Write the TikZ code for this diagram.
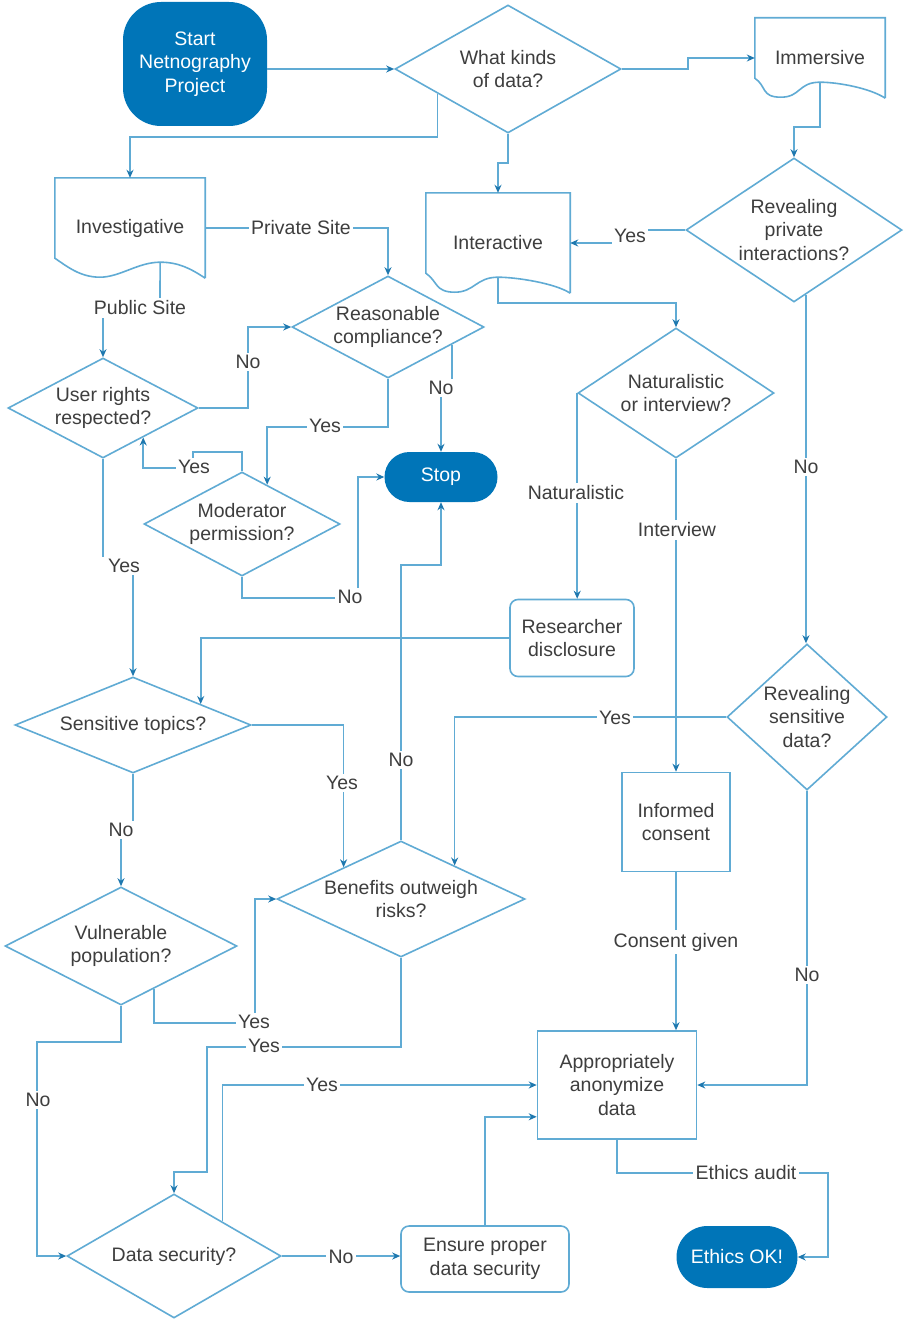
\documentclass[tikz,border=0pt]{standalone}
\usepackage{fontspec}
\setmainfont{Liberation Sans}
\usetikzlibrary{shapes.geometric,arrows.meta,calc}
\definecolor{ln}{RGB}{96,171,212}
\definecolor{fillb}{RGB}{0,117,184}
\definecolor{arrc}{RGB}{30,120,175}
\definecolor{tx}{RGB}{62,62,62}
\newcommand{\docwave}[3]{%
  \coordinate (#1-c) at ($(#1.south west)!#2!(#1.south east)+(0,-16)$);
  \coordinate (#1-t) at ($(#1.south west)!#3!(#1.south east)+(0,-1)$);
  \draw[box] (#1.south east) -- (#1.north east) -- (#1.north west) -- ($(#1.south west)+(0,-20)$)
    .. controls +(12,8) and +(-20,0) .. (#1-t)
    .. controls +(20,0) and +(-22,0) .. (#1-c)
    .. controls +(18,0) and +(-15,-10) .. (#1.south east);
}
\begin{document}
\begin{tikzpicture}[x=1pt,y=-1pt,
  every node/.style={font=\fontsize{19.5}{23.5}\selectfont, text=tx},
  box/.style={draw=ln, line width=1.6pt},
  dia/.style={diamond, draw=ln, line width=1.6pt, inner sep=0pt},
  doc/.style={rectangle, inner sep=0pt, align=center},
  term/.style={rectangle, rounded corners=#1, fill=fillb, text=white, align=center, inner sep=0pt},
  proc/.style={rectangle, draw=ln, line width=1.6pt, align=center, inner sep=0pt},
  conn/.style={draw=ln, line width=1.6pt},
  arr/.style={conn, -{Stealth[length=8pt,width=7pt,color=arrc]}},
  lab/.style={fill=white, inner sep=2.5pt},
]
\fill[white] (0,0) rectangle (905,1319);
\useasboundingbox (0,0) rectangle (905,1319);

% ---------- nodes ----------
\node[term=38pt, minimum width=144pt, minimum height=124pt] (start) at (195,64) {Start\\Netnography\\Project};
\node[dia, minimum width=226pt, minimum height=128pt, label={[align=center]center:{What kinds\\of data?}}] (what) at (508,69) {};
\node[doc, minimum width=130pt, minimum height=80pt] (imm) at (820,58) {Immersive};
\node[doc, minimum width=150pt, minimum height=100pt] (inv) at (130,228) {Investigative};
\node[doc, minimum width=144pt, minimum height=100pt] (inter) at (498,243) {Interactive};
\docwave{imm}{0.5}{0.2}
\docwave{inv}{0.7}{0.3}
\docwave{inter}{0.5}{0.2}
\node[dia, minimum width=216pt, minimum height=144pt, label={[align=center]center:{Revealing\\private\\interactions?}}] (rpi) at (794,230) {};
\node[dia, minimum width=192pt, minimum height=102pt, label={[align=center]center:{Reasonable\\compliance?}}] (rc) at (388,327) {};
\node[dia, minimum width=190pt, minimum height=100pt, label={[align=center]center:{User rights\\respected?}}] (ur) at (103,408) {};
\node[dia, minimum width=196pt, minimum height=130pt, label={[align=center]center:{Naturalistic\\or interview?}}] (nat) at (676,393) {};
\node[term=25pt, minimum width=113pt, minimum height=50pt] (stop) at (441,477) {Stop};
\node[dia, minimum width=196pt, minimum height=104pt, label={[align=center]center:{Moderator\\permission?}}] (mod) at (242,524) {};
\node[proc, rounded corners=8pt, minimum width=124pt, minimum height=77pt] (rd) at (572,638) {Researcher\\disclosure};
\node[dia, minimum width=160pt, minimum height=146pt, label={[align=center]center:{Revealing\\sensitive\\data?}}] (rsd) at (807,717) {};
\node[dia, minimum width=236pt, minimum height=96pt, label={[align=center]center:{Sensitive topics?}}] (sens) at (133,725) {};
\node[proc, minimum width=108pt, minimum height=99pt] (ic) at (676,822) {Informed\\consent};
\node[dia, minimum width=248pt, minimum height=116pt, label={[align=center]center:{Benefits outweigh\\risks?}}] (ben) at (401,899) {};
\node[dia, minimum width=232pt, minimum height=118pt, label={[align=center]center:{Vulnerable\\population?}}] (vul) at (121,946) {};
\node[proc, minimum width=159pt, minimum height=108pt] (app) at (617,1085) {Appropriately\\anonymize\\data};
\node[dia, minimum width=214pt, minimum height=124pt, label={[align=center]center:{Data security?}}] (ds) at (174,1256) {};
\node[proc, rounded corners=8pt, minimum width=168pt, minimum height=66pt] (ens) at (485,1259) {Ensure proper\\data security};
\node[term=31pt, minimum width=121pt, minimum height=62pt] (ok) at (737,1257) {Ethics OK!};

% ---------- helper coordinates on diamond edges ----------
\coordinate (w1) at ($(what.west)!0.38!(what.south)$);
\coordinate (r1) at ($(rpi.south)!0.11!(rpi.east)$);
\coordinate (b1) at ($(ben.north)!0.43!(ben.east)$);
\coordinate (s1) at ($(sens.north)!0.57!(sens.east)$);
\coordinate (c1) at ($(rc.south)!0.66!(rc.east)$);
\coordinate (m1) at ($(mod.north)!0.255!(mod.east)$);
\coordinate (u1) at ($(ur.south)!0.42!(ur.east)$);
\coordinate (b2) at ($(ben.west)!0.54!(ben.north)$);
\coordinate (v1) at ($(vul.south)!0.28!(vul.east)$);
\coordinate (d1) at ($(ds.north)!0.45!(ds.east)$);

% ---------- connectors ----------
\draw[arr] (start.east |- what.west) -- (what.west);
\draw[arr] (what.east) -- (688,69) -- (688,58) -- (imm.west);
\draw[arr] (what.south) -- (508,163) -- (498,163) -- (inter.north);
\draw[arr] (w1) -- (w1 |- 0,137) -- (inv.north |- 0,137) -- (inv.north);
\draw[arr] (imm-c) -- (imm-c |- 0,127) -- (rpi.north |- 0,127) -- (rpi.north);
\draw[arr] (rpi.west) -- (630,230) -- (630,243) -- (inter.east);
\draw[arr] (inter-c) -- (inter-c |- 0,303) -- (nat.north |- 0,303) -- (nat.north);
\draw[arr] (nat.west) -- (nat.west |- rd.north);
\draw[arr] (nat.south) -- (ic.north);
\draw[arr] (r1) -- (r1 |- rsd.north);
\draw[arr] (rsd.west) -| (b1);
\draw[arr] (rsd.south) |- (app.east);
\draw[arr] (rd.west) -| (s1);
\draw[arr] (ur.south) -- (103,566) -- (133,566) -- (sens.north);
\draw[arr] (inv-c) -- (160,308) -- (103,308) -- (ur.north);
\draw[arr] (inv.east) -| (rc.north);
\draw[arr] (ur.east) -- (248,408) -- (248,327) -- (rc.west);
\draw[arr] (c1) -- (c1 |- 0,388) -- (stop.north |- 0,388) -- (stop.north);
\draw[arr] (rc.south) -- (388,427) -- (m1 |- 0,427) -- (m1);
\draw[arr] (mod.north) -- (242,452) -- (193,452) -- (193,468) -- (u1 |- 0,468) -- (u1);
\draw[arr] (mod.south) -- (242,598) -- (358,598) -- (358,477) -- (stop.west);
\draw[arr] (ben.north) -- (401,565) -- (441,565) -- (stop.south);
\draw[arr] (sens.east) -- (b2 |- sens.east) -- (b2);
\draw[arr] (sens.south) -- (133,830) -- (121,830) -- (vul.north);
\draw[arr] (v1) -- (v1 |- 0,1023) -- (255,1023) -- (255,899) -- (ben.west);
\draw[arr] (ben.south) -- (401,1047) -- (207,1047) -- (207,1172) -- (174,1172) -- (ds.north);
\draw[arr] (vul.south) -- (121,1042) -- (37,1042) -- (37,1256) -- (ds.west);
\draw[arr] (d1) |- (app.west);
\draw[arr] (ds.east) -- (ds.east -| ens.west);
\draw[arr] (ens.north) |- ([yshift=23pt]app.south west);
\draw[arr] (ic.south) -- (ic.south |- app.north);
\draw[arr] (app.south) -- (617,1173) -- (828,1173) -- (828,1257) -- (ok.east);

% ---------- connector labels ----------
\node[lab] (l1) at (630,236) {Yes};
\node[lab] (l2) at (301,228) {Private Site};
\node[lab] (l3) at (140,308) {Public Site};
\node[lab] (l4) at (248,362) {No};
\node[lab] (l5) at (441,388) {No};
\node[lab] (l6) at (325,426) {Yes};
\node[lab] (l7) at (194,467) {Yes};
\node[lab] (l8) at (350,597) {No};
\node[lab, inner xsep=7pt] (l9) at (124,566) {Yes};
\node[lab] (l10) at (576,493) {Naturalistic};
\node[lab] (l11) at (677,530) {Interview};
\node[lab] (l12) at (806,467) {No};
\node[lab] (l13) at (615,718) {Yes};
\node[lab] (l14) at (342,783) {Yes};
\node[lab] (l15) at (401,760) {No};
\node[lab] (l16) at (121,830) {No};
\node[lab] (l17) at (676,942) {Consent given};
\node[lab] (l18) at (807,975) {No};
\node[lab] (l19) at (254,1022) {Yes};
\node[lab] (l20) at (264,1046) {Yes};
\node[lab] (l21) at (38,1100) {No};
\node[lab] (l22) at (322,1085) {Yes};
\node[lab] (l23) at (341,1257) {No};
\node[lab] (l24) at (746,1173) {Ethics audit};
\end{tikzpicture}
\end{document}
